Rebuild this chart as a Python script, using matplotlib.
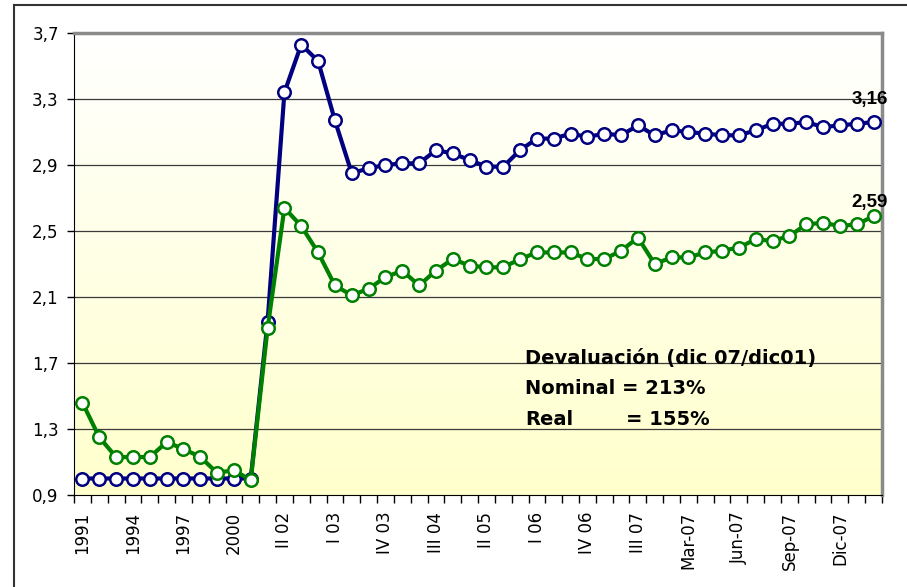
import numpy as np
import matplotlib
matplotlib.use("Agg")
import matplotlib.pyplot as plt
from matplotlib.lines import Line2D

plt.rcParams['font.family'] = ['DejaVu Sans']

# Data
nominal = [1.00, 1.00, 1.00, 1.00, 1.00, 1.00, 1.00, 1.00, 1.00, 1.00, 1.00,
           1.95, 3.34, 3.63, 3.53, 3.17, 2.85, 2.88, 2.90, 2.91, 2.91, 2.99,
           2.97, 2.93, 2.89, 2.89, 2.99, 3.06, 3.06, 3.09, 3.07, 3.09, 3.08,
           3.14, 3.08, 3.11, 3.10, 3.09, 3.08, 3.08, 3.11, 3.15, 3.15, 3.16,
           3.13, 3.14, 3.15, 3.16]
real = [1.46, 1.25, 1.13, 1.13, 1.13, 1.22, 1.18, 1.13, 1.035, 1.05, 0.99,
        1.91, 2.64, 2.53, 2.37, 2.17, 2.11, 2.15, 2.22, 2.26, 2.17, 2.26,
        2.33, 2.29, 2.28, 2.28, 2.33, 2.37, 2.37, 2.37, 2.33, 2.33, 2.38,
        2.46, 2.30, 2.34, 2.34, 2.37, 2.38, 2.40, 2.45, 2.44, 2.47, 2.54,
        2.55, 2.53, 2.54, 2.59]
tick_labels = ["1991", "1994", "1997", "2000", "II 02", "I 03", "IV 03", "III 04",
               "II 05", "I 06", "IV 06", "III 07", "Mar-07", "Jun-07", "Sep-07", "Dic-07"]
y_ticks = [0.9, 1.3, 1.7, 2.1, 2.5, 2.9, 3.3, 3.7]

n = len(nominal)
x = np.arange(n)

fig = plt.figure(figsize=(9.07, 5.87), dpi=100)
ax = fig.add_axes([74/907, 1 - 495/587, (882 - 74)/907, (495 - 33)/587])

# yellow gradient background
grad = np.linspace(0, 1, 256).reshape(-1, 1)
top = np.array([1.0, 1.0, 1.0])
bot = np.array([1.0, 1.0, 0.80])
img = top + (bot - top) * grad[:, :, None]
ax.imshow(img, extent=[0, 1, 0, 1], transform=ax.transAxes, aspect='auto', zorder=0)

for yv in y_ticks[1:-1]:
    ax.axhline(yv, color='#3a3a3a', lw=0.9, zorder=1)

ax.plot(x, nominal, color='#000080', lw=3, marker='o', ms=9, mfc='white',
        mec='#000080', mew=1.8, zorder=3)
ax.plot(x, real, color='#008000', lw=3, marker='o', ms=9, mfc='white',
        mec='#008000', mew=1.8, zorder=4)

ax.set_xlim(-0.5, n - 0.5)
ax.set_ylim(0.9, 3.7)

ax.set_yticks(y_ticks)
ax.set_yticklabels([f"{v:.1f}".replace('.', ',') for v in y_ticks], fontsize=12)
ax.tick_params(axis='y', direction='out', length=5, width=1, pad=6)

ax.set_xticks(np.arange(0, n, 3))
ax.set_xticklabels(tick_labels, rotation=90, fontsize=12, va='top')
ax.set_xticks(np.arange(-0.5, n, 1), minor=True)
ax.tick_params(axis='x', which='major', length=0, pad=12)
ax.tick_params(axis='x', which='minor', direction='out', length=6, width=1)

ax.spines['left'].set_color('black')
ax.spines['bottom'].set_color('black')
ax.spines['top'].set_color('#8a8a8a')
ax.spines['top'].set_linewidth(2.5)
ax.spines['right'].set_color('#8a8a8a')
ax.spines['right'].set_linewidth(2.5)

# end labels
ax.text(n - 1.25, 3.30, "3,16", fontsize=13.5, fontweight='bold', ha='center', va='center',
        family='Liberation Sans')
ax.text(n - 1.25, 2.67, "2,59", fontsize=13.5, fontweight='bold', ha='center', va='center',
        family='Liberation Sans')

# annotation block
ax.text(26.3, 1.73, "Devaluación (dic 07/dic01)", fontsize=14, fontweight='bold', va='center')
ax.text(26.3, 1.545, "Nominal = 213%", fontsize=14, fontweight='bold', va='center')
ax.text(26.3, 1.36, "Real", fontsize=14, fontweight='bold', va='center')
ax.text(32.3, 1.36, "= 155%", fontsize=14, fontweight='bold', va='center')

# outer chart frame
fig.add_artist(Line2D([14/907, 1], [1 - 5/587, 1 - 5/587], color='#333333', lw=1.5))
fig.add_artist(Line2D([14/907, 14/907], [0, 1 - 5/587], color='#333333', lw=1.5))

fig.savefig("out.png", dpi=100)
